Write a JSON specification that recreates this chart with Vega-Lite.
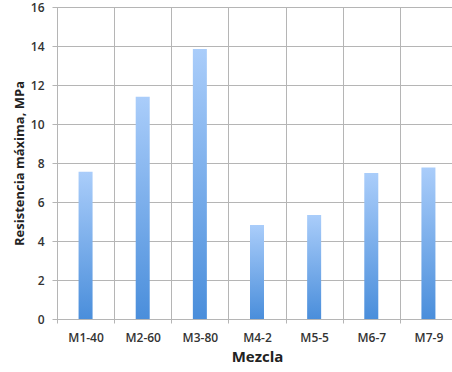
{
  "$schema": "https://vega.github.io/schema/vega-lite/v6.json",
  "autosize": {"type": "none"},
  "padding": {"left": 57, "top": 7, "right": 0, "bottom": 53},
  "width": 400,
  "height": 312,
  "background": "white",
  "data": {"values": [
    {"Mezcla": "M1-40", "Resistencia": 7.55},
    {"Mezcla": "M2-60", "Resistencia": 11.4},
    {"Mezcla": "M3-80", "Resistencia": 13.85},
    {"Mezcla": "M4-2", "Resistencia": 4.82},
    {"Mezcla": "M5-5", "Resistencia": 5.33},
    {"Mezcla": "M6-7", "Resistencia": 7.49},
    {"Mezcla": "M7-9", "Resistencia": 7.77}
  ]},
  "mark": {
    "type": "bar",
    "size": 14,
    "color": {
      "gradient": "linear",
      "x1": 0, "y1": 0, "x2": 0, "y2": 1,
      "stops": [
        {"offset": 0, "color": "#aacdfa"},
        {"offset": 1, "color": "#4a8edb"}
      ]
    }
  },
  "encoding": {
    "x": {
      "field": "Mezcla",
      "type": "nominal",
      "sort": null,
      "scale": {"paddingInner": 0, "paddingOuter": 0},
      "axis": {
        "title": "Mezcla",
        "titleFont": "Open Sans",
        "titleFontSize": 15,
        "titleFontWeight": 700,
        "titleColor": "#222",
        "titlePadding": 6,
        "labelFont": "Open Sans",
        "labelFontSize": 12,
        "labelFontWeight": 600,
        "labelColor": "#333",
        "labelAngle": 0,
        "labelPadding": 9,
        "tickBand": "extent",
        "grid": true,
        "gridColor": "#b5b5b5",
        "gridWidth": 1,
        "gridOpacity": 1,
        "domainColor": "#b5b5b5",
        "ticks": true,
        "tickSize": 4,
        "tickColor": "#b5b5b5"
      }
    },
    "y": {
      "field": "Resistencia",
      "type": "quantitative",
      "scale": {"domain": [0, 16], "nice": false},
      "axis": {
        "title": "Resistencia máxima, MPa",
        "titleFont": "Open Sans",
        "titleFontSize": 13,
        "titleFontWeight": 700,
        "titleColor": "#222",
        "titlePadding": 4,
        "labelFont": "Open Sans",
        "labelFontSize": 12,
        "labelFontWeight": 600,
        "labelColor": "#333",
        "labelPadding": 8,
        "values": [0, 2, 4, 6, 8, 10, 12, 14, 16],
        "grid": true,
        "gridColor": "#b5b5b5",
        "gridWidth": 1,
        "gridOpacity": 1,
        "domainColor": "#b5b5b5",
        "tickSize": 5,
        "tickColor": "#b5b5b5"
      }
    }
  },
  "config": {"view": {"stroke": "#b5b5b5"}}
}
